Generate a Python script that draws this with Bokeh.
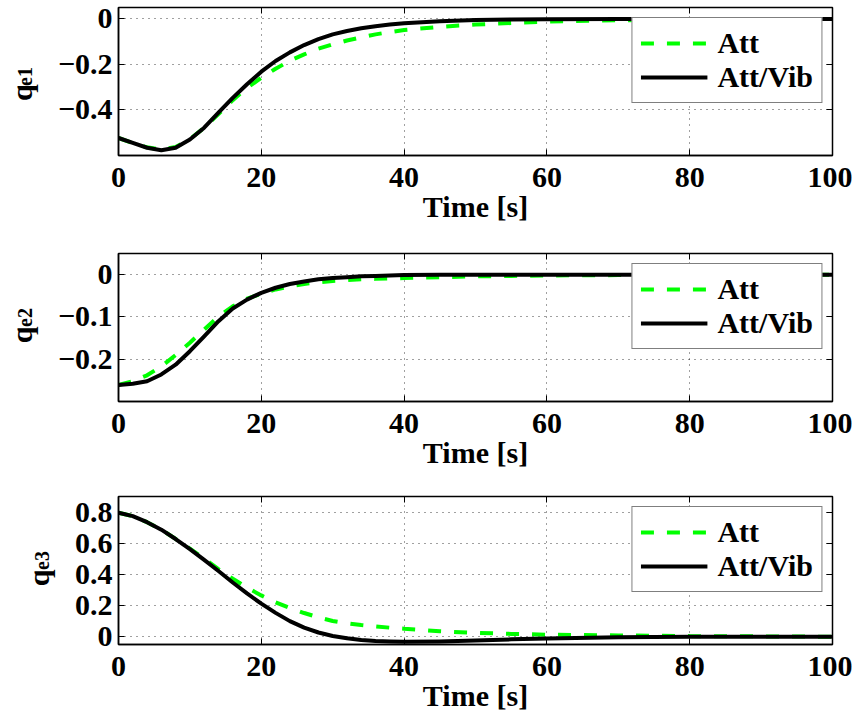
from bokeh.plotting import figure
from bokeh.layouts import column
from bokeh.models import (Range1d, FixedTicker, CustomJSTickFormatter, Legend, LegendItem,
                          LinearAxis)
from bokeh.embed import file_html
from bokeh.resources import INLINE

# ---------------- data ----------------
t = [0, 2, 4, 6, 8, 10, 12, 14, 16, 18, 20, 22, 24, 26, 28, 30, 32, 34, 36, 38, 40,
     45, 50, 55, 60, 70, 80, 90, 100]

q1_att = [-0.523, -0.545, -0.564, -0.574, -0.563, -0.528, -0.478, -0.418, -0.357, -0.303,
          -0.259, -0.219, -0.184, -0.156, -0.131, -0.112, -0.095, -0.081, -0.068, -0.058,
          -0.049, -0.035, -0.025, -0.018, -0.012, -0.006, -0.003, -0.001, 0.0]
q1_attvib = [-0.523, -0.545, -0.566, -0.577, -0.566, -0.530, -0.478, -0.412, -0.347, -0.287,
             -0.232, -0.185, -0.147, -0.115, -0.089, -0.068, -0.053, -0.041, -0.032, -0.025,
             -0.019, -0.010, -0.005, -0.003, -0.002, -0.001, 0.0, 0.0, 0.0]

q2_att = [-0.261, -0.252, -0.238, -0.217, -0.190, -0.161, -0.130, -0.099, -0.075, -0.057,
          -0.045, -0.035, -0.028, -0.022, -0.018, -0.015, -0.013, -0.011, -0.010, -0.009,
          -0.008, -0.006, -0.004, -0.003, -0.002, -0.001, 0.0, 0.0, 0.0]
q2_attvib = [-0.261, -0.258, -0.252, -0.236, -0.213, -0.181, -0.146, -0.110, -0.080, -0.059,
             -0.043, -0.031, -0.022, -0.016, -0.011, -0.008, -0.006, -0.004, -0.003, -0.002,
             -0.001, 0.0, 0.0, 0.0, 0.0, 0.0, 0.0, 0.0, 0.0]

q3_att = [0.796, 0.774, 0.735, 0.687, 0.628, 0.566, 0.500, 0.434, 0.372, 0.315,
          0.265, 0.221, 0.184, 0.152, 0.124, 0.101, 0.086, 0.075, 0.066, 0.058,
          0.051, 0.035, 0.025, 0.018, 0.013, 0.008, 0.004, 0.002, 0.0]
q3_attvib = [0.796, 0.774, 0.735, 0.687, 0.627, 0.562, 0.493, 0.422, 0.348, 0.278,
             0.212, 0.153, 0.100, 0.058, 0.027, 0.005, -0.010, -0.021, -0.028, -0.031,
             -0.032, -0.030, -0.024, -0.017, -0.011, -0.004, -0.001, 0.0, 0.0]

x_ticks = [0, 20, 40, 60, 80, 100]
y1_ticks = [-0.4, -0.2, 0]
y2_ticks = [-0.2, -0.1, 0]
y3_ticks = [0, 0.2, 0.4, 0.6, 0.8]

series_names = ["Att", "Att/Vib"]
subscripts = ["e1", "e2", "e3"]
x_title = "Time [s]"

# ---------------- style ----------------
FONT = "Liberation Serif"
FS = "30px"
FRAME_W = 714
FRAME_H = 148
NB = "\u00a0"

fmt = CustomJSTickFormatter(code="""
if (Math.abs(tick) < 1e-9) { return "0"; }
var s = (Math.round(tick * 10) / 10).toString();
return s.replace("-", "\u2212");
""")
blank = CustomJSTickFormatter(code="return '';")


def style_text_axis(ax):
    ax.axis_label_text_font = FONT
    ax.axis_label_text_font_style = "bold"
    ax.axis_label_text_color = "black"


def mirror_axis(ticks):
    return LinearAxis(ticker=FixedTicker(ticks=ticks), formatter=blank,
                      axis_line_color=None, major_tick_in=6, major_tick_out=0,
                      major_tick_line_color="black", minor_tick_line_color=None,
                      major_label_standoff=0, major_label_text_font_size="0px")


def make_panel(yr, yticks, att, attvib, sub, bottom, q_pad, s_pad):
    p = figure(frame_width=FRAME_W, frame_height=FRAME_H,
               output_backend="svg", toolbar_location=None,
               x_range=Range1d(0, 100), y_range=Range1d(*yr),
               min_border_left=118, min_border_right=20, min_border_top=7,
               min_border_bottom=bottom)
    p.background_fill_color = "white"
    p.border_fill_color = "white"
    p.outline_line_color = "black"
    p.outline_line_width = 1.5

    l_att = p.line(t, att, line_color="#00FF00", line_width=4, line_dash="13 13")
    l_vib = p.line(t, attvib, line_color="black", line_width=4, line_join="round")

    for ax in (p.xaxis[0], p.yaxis[0]):
        ax.axis_line_color = "black"
        ax.axis_line_width = 1.5
        ax.major_tick_in = 6
        ax.major_tick_out = 0
        ax.major_tick_line_color = "black"
        ax.minor_tick_line_color = None
        ax.major_label_text_font = FONT
        ax.major_label_text_font_style = "bold"
        ax.major_label_text_font_size = FS
        ax.major_label_text_color = "black"
        ax.major_label_standoff = 6
        style_text_axis(ax)

    p.xaxis.ticker = FixedTicker(ticks=x_ticks)
    p.xaxis.major_label_standoff = 12
    p.xaxis.axis_label = x_title
    p.xaxis.axis_label_text_font_size = FS
    p.xaxis.axis_label_standoff = 0

    p.yaxis.ticker = FixedTicker(ticks=yticks)
    p.yaxis.formatter = fmt
    # subscript part of the y label (closest to the frame)
    p.yaxis.axis_label = NB * s_pad + sub
    p.yaxis.axis_label_text_font_size = "20px"
    p.yaxis.axis_label_standoff = 19

    # main letter of the y label, on an outer tick-less axis
    qa = LinearAxis(ticker=FixedTicker(ticks=[]), axis_line_color=None,
                    major_tick_line_color=None, minor_tick_line_color=None,
                    major_tick_in=0, major_tick_out=0, major_label_standoff=0,
                    axis_label="q" + NB * q_pad, axis_label_standoff=-27)
    style_text_axis(qa)
    qa.axis_label_text_font_size = FS
    p.add_layout(qa, "left")

    # tick marks on the top and right edges (box on)
    p.add_layout(mirror_axis(yticks), "right")
    p.add_layout(mirror_axis(x_ticks), "above")

    for g in (p.xgrid[0], p.ygrid[0]):
        g.grid_line_color = "black"
        g.grid_line_alpha = 0.75
        g.grid_line_width = 1
        g.grid_line_dash = "1 5"

    legend = Legend(items=[LegendItem(label=series_names[0], renderers=[l_att]),
                           LegendItem(label=series_names[1], renderers=[l_vib])],
                    location="top_right")
    legend.label_text_font = FONT
    legend.label_text_font_style = "bold"
    legend.label_text_font_size = FS
    legend.label_text_color = "black"
    legend.glyph_width = 67
    legend.glyph_height = 30
    legend.label_standoff = 10
    legend.padding = 8
    legend.spacing = -2
    legend.margin = 10
    legend.border_line_color = "black"
    legend.border_line_width = 1.5
    legend.background_fill_color = "white"
    legend.background_fill_alpha = 1.0
    p.add_layout(legend, "center")
    return p


p1 = make_panel((-0.6, 0.05), y1_ticks, q1_att, q1_attvib, subscripts[0], 91, 3, 2)
p2 = make_panel((-0.3, 0.05), y2_ticks, q2_att, q2_attvib, subscripts[1], 88, 2, 4)
p3 = make_panel((-0.05, 0.9), y3_ticks, q3_att, q3_attvib, subscripts[2], 78, 2, 4)

layout = column(p1, p2, p3, spacing=0)
open("out.html", "w").write(file_html(layout, INLINE))
